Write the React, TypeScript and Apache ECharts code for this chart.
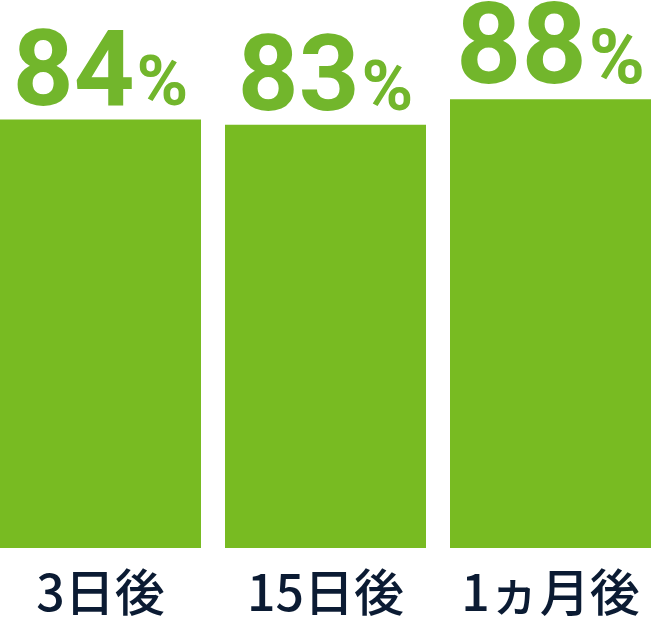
import React, { useEffect, useRef } from "react";
import * as echarts from "echarts";

const categories = ["3日後", "15日後", "1ヵ月後"];
const values = [84, 83, 88];
// the last value is drawn with a larger label in the reference
const highlightIndex = 2;

const green = "#72b62c";

const richLabel = (big: number, small: number) => ({
  v: {
    fontSize: big,
    fontWeight: 700,
    fontFamily: "Roboto",
    color: green,
    verticalAlign: "bottom",
    lineHeight: big,
  },
  p: {
    fontSize: small,
    fontWeight: 700,
    fontFamily: "Roboto",
    color: green,
    verticalAlign: "bottom",
    lineHeight: big,
    padding: [0, 0, Math.round((big - small) * 0.16), 2],
  },
});

const App: React.FC = () => {
  const chartRef = useRef<HTMLDivElement>(null);

  useEffect(() => {
    document.body.style.margin = "0";
    document.body.style.overflow = "hidden";
    if (!chartRef.current) return;
    const chart = echarts.init(chartRef.current, undefined, { renderer: "svg" });

    chart.setOption({
      animation: false,
      grid: { left: 0, right: 0, top: 38, bottom: 79 },
      xAxis: {
        type: "category",
        data: categories,
        axisLine: { show: false },
        axisTick: { show: false },
        axisLabel: {
          interval: 0,
          margin: 16,
          fontSize: 50,
          fontWeight: 500,
          color: "#0b1b33",
          fontFamily: "Noto Sans CJK JP",
        },
      },
      yAxis: {
        type: "value",
        min: 0,
        max: 100,
        show: false,
      },
      series: [
        {
          type: "bar",
          data: values.map((v, i) =>
            i === highlightIndex
              ? { value: v, label: { rich: richLabel(114, 76) } }
              : v
          ),
          barWidth: 201,
          itemStyle: { color: "#78bb22" },
          label: {
            show: true,
            position: "top",
            distance: -2,
            formatter: (p: any) => `{v|${p.value}}{p|%}`,
            rich: richLabel(106, 70),
          },
        },
      ],
    });

    return () => chart.dispose();
  }, []);

  return (
    <div
      ref={chartRef}
      style={{ width: "675px", height: "627px", marginLeft: "-12px" }}
    />
  );
};

export default App;
